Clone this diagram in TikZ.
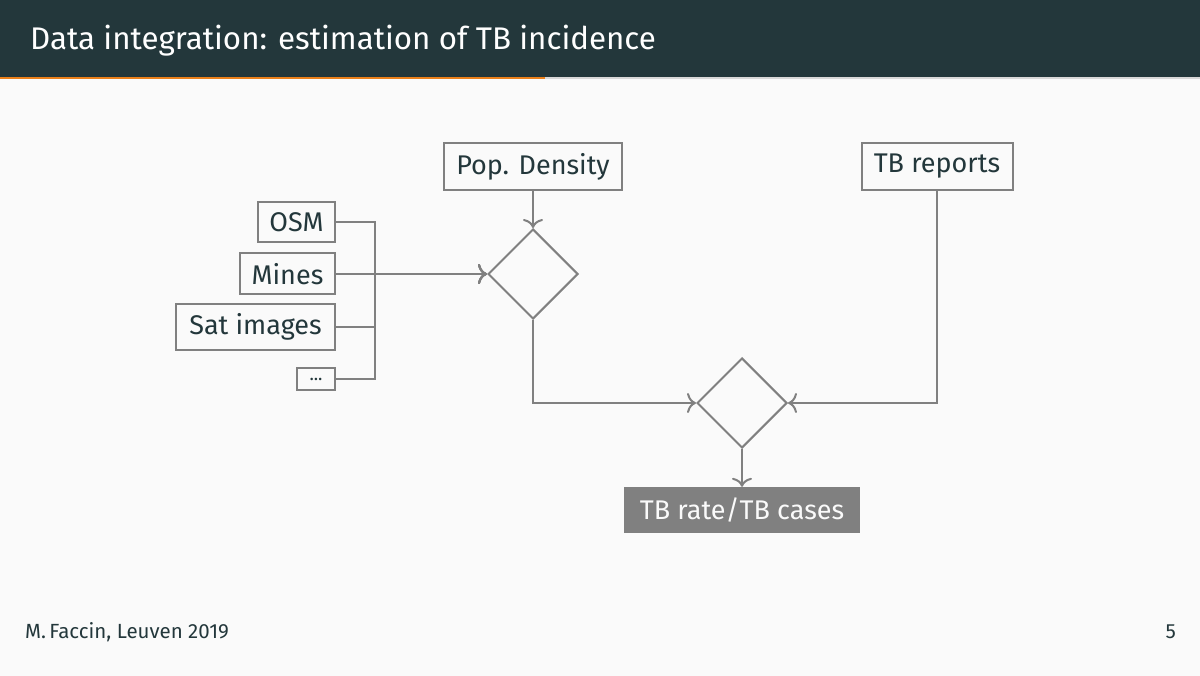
\documentclass[tikz,border=0pt]{standalone}
\usepackage{fontspec}
\setmainfont{Fira Sans}
\usetikzlibrary{shapes.geometric,arrows.meta}
\definecolor{mDarkTeal}{HTML}{23373B}
\definecolor{mOrange}{HTML}{EB811B}
\definecolor{mBg}{HTML}{FAFAFA}
\definecolor{mLine}{HTML}{808080}
\definecolor{mBar}{HTML}{D8D8D8}
\tikzset{
  inbox/.style={draw=mLine, line width=2pt, inner sep=0pt, text=mDarkTeal,
    font=\fontsize{27}{32}\selectfont, anchor=center},
  outbox/.style={fill=mLine, inner sep=0pt, text=mBg,
    font=\fontsize{27}{32}\selectfont, anchor=center},
  decision/.style={diamond, draw=mLine, line width=2pt, inner sep=0pt,
    minimum width=90pt, minimum height=90pt, aspect=1},
  conn/.style={draw=mLine, line width=2pt},
  arr/.style={conn, -{Computer Modern Rightarrow[length=9pt, width=20pt, line width=2pt]}},
}
\begin{document}
\begin{tikzpicture}[x=1pt,y=-1pt]
\useasboundingbox (0,0) rectangle (1200,676);
\fill[mBg] (0,0) rectangle (1200,676);
\fill[mDarkTeal] (0,0) rectangle (1200,77);
\fill[mBar] (0,77) rectangle (1200,79);
\fill[mOrange] (0,77) rectangle (545,79);
\node[anchor=base west, text=white, font=\fontsize{31.3}{38}\selectfont, inner sep=0pt] (title) at (30,50) {Data integration: estimation of TB incidence};

\node[inbox, minimum width=178pt, minimum height=47pt] (pop) at (533,166.5) {Pop. Density};
\node[inbox, minimum width=151pt, minimum height=47pt] (tbr) at (937,166.5) {TB reports};
\node[inbox, minimum width=77pt, minimum height=40pt, anchor=east] (osm) at (336,222) {OSM};
\node[inbox, minimum width=95pt, minimum height=41pt, anchor=east] (mines) at (336,274) {Mines};
\node[inbox, minimum width=159pt, minimum height=46pt, anchor=east] (sat) at (336,327) {Sat images};
\node[inbox, minimum width=38pt, minimum height=22pt, anchor=east, font=\fontsize{18}{20}\selectfont] (dots) at (336,379) {...};

\node[decision] (d1) at (533,274) {};
\node[decision] (d2) at (742,403) {};
\node[outbox, minimum width=236pt, minimum height=46pt] (out) at (742,510) {TB rate/TB cases};

\coordinate (bus) at (375,274);
\draw[arr] (osm.east) -| (bus) -- (d1.west);
\draw[arr] (mines.east) -- (d1.west);
\draw[arr] (sat.east) -| (bus) -- (d1.west);
\draw[arr] (dots.east) -| (bus) -- (d1.west);
\draw[arr] (pop.south) -- (d1.north);
\draw[arr] (d1.south) |- (d2.west);
\draw[arr] (tbr.south) |- (d2.east);
\draw[arr] (d2.south) -- (out.north);

\node[anchor=base west, text=mDarkTeal, font=\fontsize{20.5}{24}\selectfont, inner sep=0pt] (foot) at (25,638) {M.\,Faccin, Leuven 2019};
\node[anchor=base east, text=mDarkTeal, font=\fontsize{20.5}{24}\selectfont, inner sep=0pt] (page) at (1176,638) {5};
\end{tikzpicture}
\end{document}
